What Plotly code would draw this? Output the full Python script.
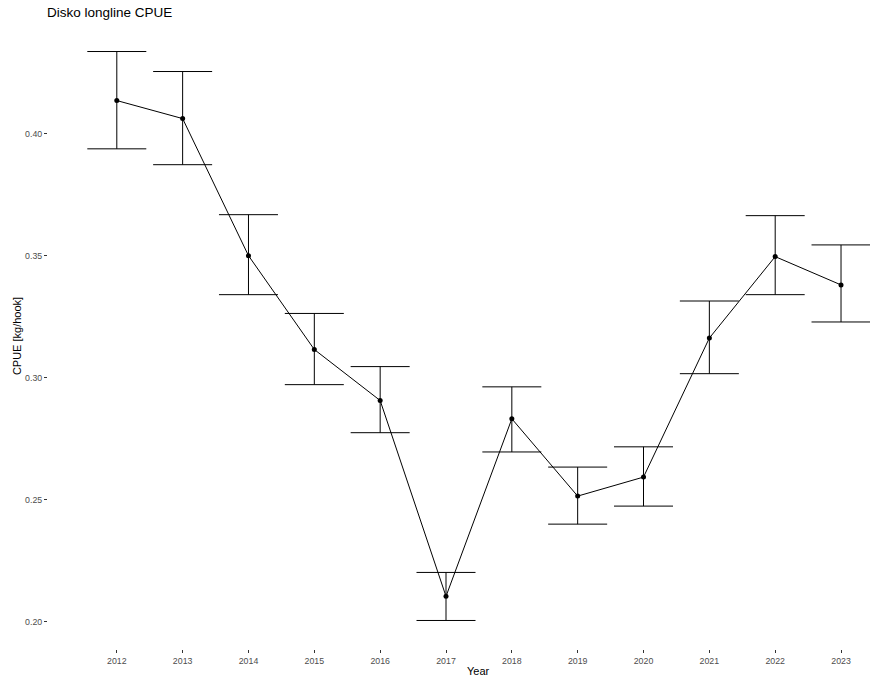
import plotly.graph_objects as go

# Disko longline CPUE index by year with confidence limits
years = [2012, 2013, 2014, 2015, 2016, 2017, 2018, 2019, 2020, 2021, 2022, 2023]
cpue = [0.4136, 0.4062, 0.3500, 0.3115, 0.2906, 0.2103, 0.2831, 0.2514, 0.2592, 0.3162, 0.3496, 0.3380]
upper = [0.4337, 0.4255, 0.3668, 0.3263, 0.3045, 0.2201, 0.2962, 0.2633, 0.2716, 0.3314, 0.3664, 0.3544]
lower = [0.3938, 0.3873, 0.3340, 0.2971, 0.2774, 0.2004, 0.2695, 0.2399, 0.2473, 0.3016, 0.3340, 0.3228]

y_ticks = [0.20, 0.25, 0.30, 0.35, 0.40]
y_tick_labels = ["0.20", "0.25", "0.30", "0.35", "0.40"]

err_plus = [u - c for u, c in zip(upper, cpue)]
err_minus = [c - l for c, l in zip(cpue, lower)]

FONT = "Liberation Sans, Arial, sans-serif"

fig = go.Figure()
fig.add_trace(go.Scatter(
    x=years,
    y=cpue,
    mode="lines+markers",
    line=dict(color="black", width=1),
    marker=dict(color="black", size=5),
    error_y=dict(
        type="data",
        symmetric=False,
        array=err_plus,
        arrayminus=err_minus,
        color="black",
        thickness=1,
        width=29.5,
    ),
    showlegend=False,
))

# x-axis title centred on the full panel span (panel runs past the right edge)
fig.add_annotation(
    text="Year",
    x=2017.5,
    xref="x",
    y=-22 / 626,
    yref="paper",
    yanchor="middle",
    showarrow=False,
    font=dict(family=FONT, size=11, color="black"),
)

fig.update_layout(
    width=870,
    height=680,
    margin=dict(l=48, r=0, t=23, b=31),
    paper_bgcolor="white",
    plot_bgcolor="white",
    font=dict(family=FONT, color="black"),
    title=dict(
        text="Disko longline CPUE",
        font=dict(family=FONT, size=13.5, color="black"),
        x=47 / 870,
        xanchor="left",
        xref="container",
        y=1 - 12 / 680,
        yanchor="middle",
        yref="container",
    ),
    xaxis=dict(
        range=[2010.955, 2023.44],
        tickmode="array",
        tickvals=years,
        ticktext=[str(y) for y in years],
        ticks="outside",
        ticklen=3,
        tickwidth=1,
        tickcolor="#333333",
        tickfont=dict(family=FONT, size=8.8, color="#4D4D4D"),
        showgrid=False,
        zeroline=False,
        showline=False,
    ),
    yaxis=dict(
        range=[0.1887, 0.4454],
        tickmode="array",
        tickvals=y_ticks,
        ticktext=y_tick_labels,
        ticks="outside",
        ticklen=3,
        tickwidth=1,
        tickcolor="#333333",
        tickfont=dict(family=FONT, size=8.8, color="#4D4D4D"),
        showgrid=False,
        zeroline=False,
        showline=False,
        title=dict(text="CPUE [kg/hook]", font=dict(family=FONT, size=11, color="black"), standoff=1),
    ),
)

fig.write_html("out.html")
